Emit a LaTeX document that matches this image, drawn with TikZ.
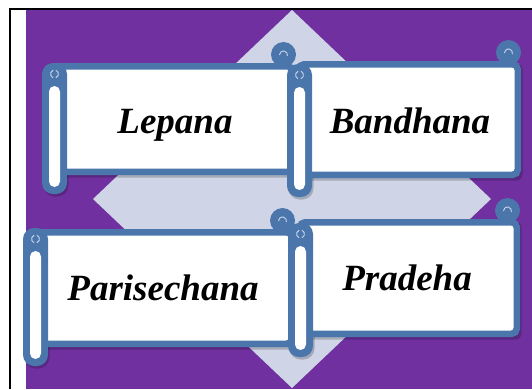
\documentclass[tikz,border=0pt]{standalone}
\usepackage{fontspec}
\setmainfont{Liberation Serif}
\definecolor{bgpurple}{HTML}{7030A0}
\definecolor{diam}{HTML}{CFD5E6}
\definecolor{scrollblue}{HTML}{4A76AC}
\definecolor{curlmark}{HTML}{C9D5EA}
\tikzset{
  lbl/.style={font=\fontsize{37}{40}\selectfont\bfseries\itshape, text=black, inner sep=0pt},
  shade/.style={fill=black, opacity=0.2},
}
% #1 roll left, #2 body top, #3 body right, #4 body bottom, #5 roll top, #6 roll bottom
\newcommand\scrollbox[6]{%
  \fill[shade, rounded corners=6pt] (#1+14,#2+2.5) rectangle (#3+1.5,#4+2.5);
  \fill[shade, rounded corners=11pt] (#1+1.5,#5+2.5) rectangle (#1+26.5,#6+2.5);
  \draw[scrollblue, line width=6.5pt, fill=white, rounded corners=5pt]
    (#1+12,#2+3.25) rectangle (#3-3.25,#4-3.25);
  \fill[scrollblue] (#3-12.5,#2-8.5) circle (12.5);
  \draw[curlmark, line width=0.9pt] (#3-12.5,#2-8) ++(15:4) arc (15:-180:4);
  \fill[scrollblue, rounded corners=11pt] (#1,#5) rectangle (#1+25,#6);
  \fill[white, rounded corners=5.5pt] (#1+7,#5+23) rectangle (#1+18,#6-7);
  \draw[curlmark, line width=0.9pt] (#1+12.5,#5+11) ++(110:4) arc (110:250:4);
  \draw[curlmark, line width=0.9pt] (#1+12.5,#5+11) ++(-70:4) arc (-70:70:4);
}
\begin{document}
\begin{tikzpicture}[x=1pt,y=-1pt]
\useasboundingbox (0,0) rectangle (532,389);
\fill[white] (0,0) rectangle (532,389);
\fill[bgpurple] (26,10) rectangle (532,389);
\fill[diam] (292,10) -- (491,199) -- (292,388) -- (93,199) -- cycle;
\draw[black, line width=2pt] (10,389) -- (10,9) -- (532,9);

\scrollbox{42}{63}{296}{175}{63}{194}
\scrollbox{287}{61}{521}{178}{64}{197}
\scrollbox{23}{229}{295}{347}{228}{366}
\scrollbox{288}{219}{520}{337}{223}{357}

\node[lbl, anchor=base] (lepana) at (175,133) {Lepana};
\node[lbl, anchor=base] (bandhana) at (410,133) {Bandhana};
\node[lbl, anchor=base] (parisechana) at (163,300) {Parisechana};
\node[lbl, anchor=base] (pradeha) at (407,290) {Pradeha};
\end{tikzpicture}
\end{document}
